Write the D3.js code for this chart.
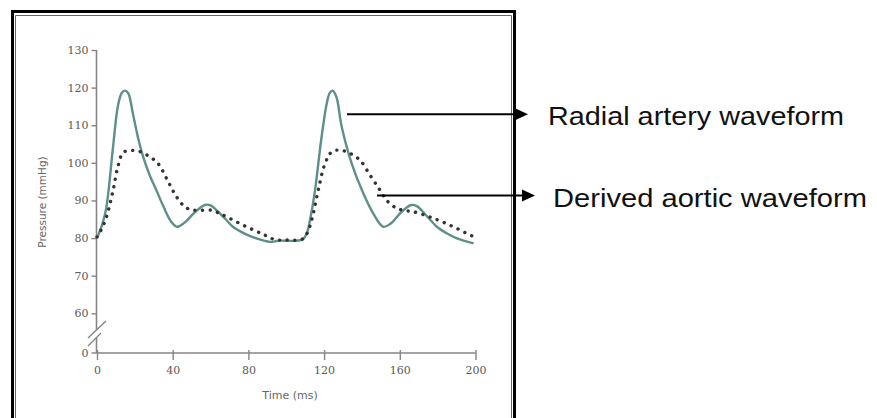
<!DOCTYPE html>
<meta charset="utf-8">
<script src="https://cdn.jsdelivr.net/npm/d3@7"></script>
<style>
body { margin: 0; background: #fff; }
svg { display: block; }
</style>
<div id="chart"></div>
<script>
// radial artery waveform (solid) : time in ms, pressure in mmHg
const radialT = [0, 3, 5, 8.5, 11, 13, 14.7, 16.5, 19, 22, 24.4, 28, 31.4, 35, 39, 42.3, 46, 52, 57, 60, 64, 68, 71.8, 78, 84.3, 91.4, 96, 108.5,
                 110.8, 113, 115.2, 118.7, 121.4, 123, 124.5, 126.5, 129.3, 134.6, 140.7, 146, 151.3, 155, 161, 166, 169, 174, 179.6, 185, 190.2, 199];
const radialP = [80, 84, 88.3, 104.3, 115, 118.5, 119.2, 118.5, 113, 106, 101.6, 96.5, 92.7, 88.5, 84.5, 83, 84, 87, 88.8, 88.7, 87, 85, 83, 81.2, 79.9, 79, 79.3, 79.6,
                 81.2, 86, 92.7, 107, 115.8, 118.6, 119.2, 117.5, 109.6, 99.8, 91.9, 86.5, 83, 83.8, 87, 88.8, 88.5, 86, 83, 81.2, 79.9, 78.6];

// derived aortic waveform (dotted)
const aorticT = [0, 2, 5, 8.5, 11, 13.8, 18.2, 22.6, 27.9, 32.3, 37.6, 42, 46.4, 50, 54.3, 60.5, 65, 70.2, 79, 87.8, 94, 100, 108,
                 110, 111.7, 114.3, 116.9, 120.5, 124, 128.4, 133.7, 139, 144.3, 149.6, 153.1, 158.4, 163, 167.2, 176, 186.6, 196.3, 198];
const aorticP = [80.3, 82, 85.6, 92.7, 98.9, 102.7, 103.3, 103, 101.6, 99.8, 95, 91, 88.3, 87.5, 87.4, 87.4, 86.5, 85.2, 83, 81, 79.6, 79.5, 79.6,
                 80.5, 82, 86.5, 92.7, 99.8, 102.9, 103.4, 102.5, 100.7, 96.7, 92.7, 90, 87.9, 87.3, 87, 85.6, 83.4, 81, 80.6];

const xTicks = [0, 40, 80, 120, 160, 200];
const yTicks = [60, 70, 80, 90, 100, 110, 120, 130];
const labels = ["Radial artery waveform", "Derived aortic waveform"];

const W = 877, H = 418;
const svg = d3.select("#chart").append("svg")
  .attr("width", W).attr("height", H);

// scales
const x = d3.scaleLinear().domain([0, 200]).range([97, 475.5]);
const y = d3.scaleLinear().domain([60, 130]).range([313.3, 50]);
const yZero = 353;   // the broken axis puts 0 below the break
const axisX = 96.5;
const grey = "#858585";
const tickFont = "11px";

// frame: thick outer line, thin inner line, open at the bottom
svg.append("path")
  .attr("d", "M12.5,420 V11.5 H514.5 V420")
  .attr("fill", "none").attr("stroke", "#000").attr("stroke-width", 3);
svg.append("path")
  .attr("d", "M15.5,420 V15.5 H511.5 V420")
  .attr("fill", "none").attr("stroke", "#666").attr("stroke-width", 1);

// x axis
const gx = svg.append("g")
  .attr("transform", "translate(0," + yZero + ")")
  .call(d3.axisBottom(x).tickValues(xTicks).tickSizeInner(7).tickSizeOuter(0).tickPadding(6));
gx.select(".domain").attr("stroke", grey).attr("stroke-width", 1.6)
  .attr("d", "M" + axisX + ",0H" + x(200));
gx.selectAll(".tick line").attr("stroke", grey).attr("stroke-width", 1.4).attr("y1", -3);
gx.selectAll(".tick text")
  .attr("fill", "#5a5a5a").style("font-family", "DejaVu Serif").style("font-size", tickFont);

// y axis
const gy = svg.append("g")
  .attr("transform", "translate(" + axisX + ",0)")
  .call(d3.axisLeft(y).tickValues(yTicks).tickSizeInner(5).tickSizeOuter(0).tickPadding(3));
gy.select(".domain").remove();
gy.selectAll(".tick line").attr("stroke", grey).attr("stroke-width", 1.4);
gy.selectAll(".tick text")
  .attr("fill", "#5a5a5a").style("font-family", "DejaVu Serif").style("font-size", tickFont);

// the 0 tick below the break
gy.append("line").attr("x1", -5).attr("x2", 0).attr("y1", yZero).attr("y2", yZero)
  .attr("stroke", grey).attr("stroke-width", 1.4);
gy.append("text").attr("x", -8).attr("y", yZero).attr("dy", "0.32em")
  .attr("text-anchor", "end").attr("fill", "#5a5a5a")
  .style("font-family", "DejaVu Serif").style("font-size", tickFont).text("0");

// axis line with the break
svg.append("path")
  .attr("d", "M" + axisX + "," + y(130) + "V330 M" + axisX + ",338V" + yZero)
  .attr("fill", "none").attr("stroke", grey).attr("stroke-width", 1.6);
svg.append("path")
  .attr("d", "M88,338L106,321 M88,346L101,333")
  .attr("fill", "none").attr("stroke", grey).attr("stroke-width", 1.4);

// axis titles
svg.append("text")
  .attr("x", 290).attr("y", 399)
  .attr("text-anchor", "middle").attr("fill", "#666")
  .style("font-family", "DejaVu Sans").style("font-size", "11px")
  .text("Time (ms)");
svg.append("text")
  .attr("transform", "translate(46,202) rotate(-90)")
  .attr("text-anchor", "middle").attr("fill", "#666")
  .style("font-family", "DejaVu Sans").style("font-size", "10.5px")
  .text("Pressure (mmHg)");

// curves
const line = d3.line().curve(d3.curveCatmullRom.alpha(0.5))
  .x(d => x(d[0])).y(d => y(d[1]));

svg.append("path")
  .datum(d3.zip(radialT, radialP))
  .attr("d", line)
  .attr("fill", "none").attr("stroke", "#5e8f8a").attr("stroke-width", 2.4)
  .attr("stroke-linejoin", "round");

svg.append("path")
  .datum(d3.zip(aorticT, aorticP))
  .attr("d", line)
  .attr("fill", "none").attr("stroke", "#333").attr("stroke-width", 3.4)
  .attr("stroke-linecap", "round").attr("stroke-dasharray", "0.1,7.5");

// annotation arrows
const arrows = [
  {x1: 347, x2: 516, y: 114.3, tip: 528, tx: 548, ty: 125, len: 296},
  {x1: 377, x2: 523, y: 195.5, tip: 535, tx: 553, ty: 207, len: 314}
];
arrows.forEach((a, i) => {
  svg.append("line")
    .attr("x1", a.x1).attr("x2", a.x2).attr("y1", a.y).attr("y2", a.y)
    .attr("stroke", "#000").attr("stroke-width", 2);
  svg.append("path")
    .attr("d", "M" + (a.x2 - 1) + "," + (a.y - 6) + "L" + a.tip + "," + a.y + "L" + (a.x2 - 1) + "," + (a.y + 6) + "Z")
    .attr("fill", "#000");
  svg.append("text")
    .attr("x", a.tx).attr("y", a.ty)
    .attr("fill", "#111")
    .attr("textLength", a.len).attr("lengthAdjust", "spacingAndGlyphs")
    .style("font-family", "Liberation Sans, Arial, sans-serif").style("font-size", "26.5px")
    .text(labels[i]);
});
</script>
